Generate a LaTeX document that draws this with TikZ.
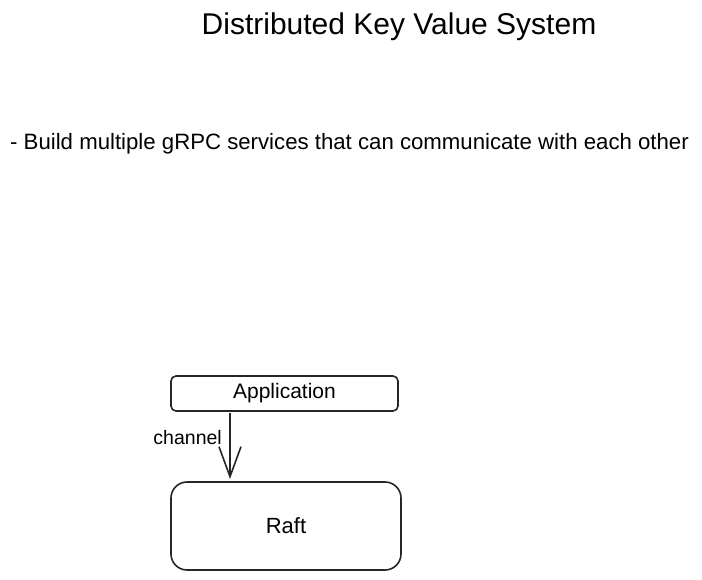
\documentclass[tikz,border=0pt]{standalone}
\usepackage{fontspec}
\setmainfont{Liberation Sans}
\usetikzlibrary{positioning,arrows.meta}
\tikzset{
  ttl/.style      = {font=\fontsize{30}{34}\selectfont, inner sep=0pt},
  bullet/.style   = {font=\fontsize{22.2}{25}\selectfont, anchor=west, inner sep=0pt},
  appbox/.style   = {draw=black!85, rounded corners=5pt, line width=1.6pt, minimum width=227pt, minimum height=35pt, font=\fontsize{21}{24}\selectfont, inner sep=0pt},
  raftbox/.style  = {draw=black!85, rounded corners=16pt, line width=1.6pt, minimum width=230pt, minimum height=88pt, font=\fontsize{22}{25}\selectfont, inner sep=0pt},
  lbl/.style      = {font=\fontsize{19.5}{22}\selectfont, inner sep=0pt},
  flow/.style     = {-{Straight Barb[length=30pt,width=22pt,line width=1.6pt]}, draw=black!85, line width=1.6pt},
}
\begin{document}
\begin{tikzpicture}[x=1pt,y=-1pt]
  \useasboundingbox (0,0) rectangle (702,580);

  \node[ttl] (title) at (399,27) {Distributed Key Value System};
  \node[bullet] (goal) at (10,144) {- Build multiple gRPC services that can communicate with each other};

  \node[appbox] (app) at (284.5,393.5) {Application};
  \node[raftbox] (raft) at (286,526) {Raft};

  \coordinate (chtop) at (230,413);
  \coordinate (chend) at (230,479);
  \draw[flow] (chtop) -- (chend);
  \node[lbl, anchor=east] (chan) at (222,438) {channel};
\end{tikzpicture}
\end{document}
